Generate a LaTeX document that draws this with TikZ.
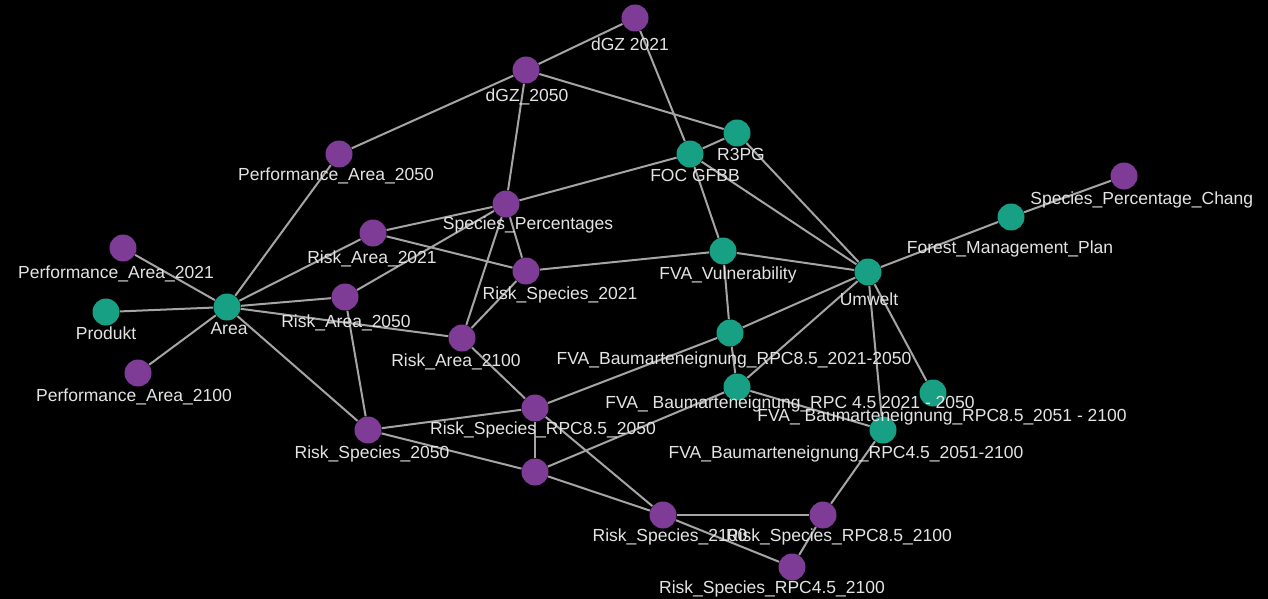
\documentclass[tikz,border=0pt]{standalone}
\usepackage{fontspec}
\setmainfont{Liberation Sans}
\definecolor{purp}{RGB}{126,60,150}
\definecolor{tealn}{RGB}{24,160,132}
\definecolor{edgec}{RGB}{165,165,165}
\definecolor{txtc}{RGB}{228,228,228}
\pgfdeclarelayer{bglayer}
\pgfdeclarelayer{edgelayer}
\pgfsetlayers{bglayer,edgelayer,main}
\begin{document}
\begin{tikzpicture}[x=0.5pt,y=-0.5pt,
  vp/.style={circle,fill=purp,minimum size=13.5pt,inner sep=0pt},
  vt/.style={circle,fill=tealn,minimum size=13.5pt,inner sep=0pt},
  lbl/.style={text=txtc,font=\fontsize{8.75pt}{10pt}\selectfont,inner sep=0pt,anchor=base},
  edge/.style={draw=edgec,line width=1pt}]
\useasboundingbox (0,0) rectangle (1268,599);
\begin{pgfonlayer}{bglayer}
  \fill[black] (0,0) rectangle (1268,599);
\end{pgfonlayer}

% nodes
\node[vp] (dgz21) at (635,18) {};
\node[vp] (dgz50) at (526,70) {};
\node[vp] (pa50) at (339,154) {};
\node[vt] (r3pg) at (737,133) {};
\node[vt] (foc) at (690,154) {};
\node[vp] (spc) at (1124,176) {};
\node[vt] (fmp) at (1011,217) {};
\node[vp] (sp) at (506,204) {};
\node[vp] (ra21) at (373,233) {};
\node[vp] (pa21) at (123,248) {};
\node[vp] (rs21) at (526,271) {};
\node[vt] (fvav) at (723,251) {};
\node[vt] (umw) at (868,272) {};
\node[vt] (prod) at (106,312) {};
\node[vt] (area) at (227,307) {};
\node[vp] (ra50) at (345,297) {};
\node[vp] (ra2100) at (462,338) {};
\node[vt] (b85a) at (730,333) {};
\node[vt] (b45a) at (737,387) {};
\node[vt] (b85b) at (933,393) {};
\node[vt] (b45b) at (883,430) {};
\node[vp] (pa2100) at (138,373) {};
\node[vp] (rs8550) at (535,408) {};
\node[vp] (rs50) at (368,430) {};
\node[vp] (unn) at (535,472) {};
\node[vp] (rs2100) at (663,515) {};
\node[vp] (rs85100) at (823,515) {};
\node[vp] (rs45100) at (792,567) {};

% edges
\begin{pgfonlayer}{edgelayer}
\foreach \a/\b in {pa50/dgz50, pa50/area, pa21/area, prod/area, pa2100/area,
  area/ra21, area/ra50, area/ra2100, area/rs50, ra21/sp, ra21/rs21, ra50/sp,
  ra50/rs50, sp/ra2100, sp/rs21, rs21/ra2100, sp/dgz50, sp/foc, rs21/fvav,
  fvav/foc, fvav/umw, fvav/b85a, dgz21/dgz50, dgz21/foc, dgz50/r3pg, foc/r3pg,
  foc/umw, r3pg/umw, umw/fmp, fmp/spc, umw/b85a, umw/b45a, b85a/b45a, umw/b45b,
  umw/b85b, b45a/b45b, b45a/unn, rs8550/b85a, ra2100/rs8550, rs8550/unn,
  rs8550/rs50, rs50/unn, rs8550/rs2100, unn/rs2100, rs2100/rs85100,
  rs85100/rs45100, rs85100/b45b, rs2100/rs45100}
  \draw[edge] (\a) -- (\b);
\end{pgfonlayer}

% labels
\node[lbl] (l-dgz21) at (630,51) {dGZ 2021};
\node[lbl] (l-dgz50) at (527,102) {dGZ\_2050};
\node[lbl] (l-pa50) at (336,180) {Performance\_Area\_2050};
\node[lbl] (l-r3pg) at (741,160) {R3PG};
\node[lbl] (l-foc) at (695,181) {FOC GFBB};
\node[lbl] (l-fmp) at (1010,253) {Forest\_Management\_Plan};
\node[lbl] (l-sp) at (528,229) {Species\_Percentages};
\node[lbl] (l-ra21) at (372,263) {Risk\_Area\_2021};
\node[lbl] (l-pa21) at (116,278) {Performance\_Area\_2021};
\node[lbl] (l-rs21) at (560,299) {Risk\_Species\_2021};
\node[lbl] (l-fvav) at (728,279) {FVA\_Vulnerability};
\node[lbl] (l-umw) at (869,305) {Umwelt};
\node[lbl] (l-prod) at (106,339) {Produkt};
\node[lbl] (l-area) at (229,334) {Area};
\node[lbl] (l-ra50) at (346,327) {Risk\_Area\_2050};
\node[lbl] (l-ra2100) at (456,366) {Risk\_Area\_2100};
\node[lbl] (l-b85a) at (734,364) {FVA\_Baumarteneignung\_RPC8.5\_2021-2050};
\node[lbl] (l-b45a) at (790,408) {FVA\_ Baumarteneignung\_RPC 4.5 2021 - 2050};
\node[lbl] (l-b85b) at (942,421) {FVA\_ Baumarteneignung\_RPC8.5\_2051 - 2100};
\node[lbl] (l-b45b) at (846,458) {FVA\_Baumarteneignung\_RPC4.5\_2051-2100};
\node[lbl] (l-pa2100) at (134,401) {Performance\_Area\_2100};
\node[lbl] (l-rs8550) at (543,434) {Risk\_Species\_RPC8.5\_2050};
\node[lbl] (l-rs50) at (372,458) {Risk\_Species\_2050};
\node[lbl] (l-rs2100) at (670,541) {Risk\_Species\_2100};
\node[lbl] (l-rs85100) at (839,541) {Risk\_Species\_RPC8.5\_2100};
\node[lbl] (l-rs45100) at (772,593) {Risk\_Species\_RPC4.5\_2100};
\begin{scope}
  \clip (0,0) rectangle (1251,599);
  \node[lbl,anchor=base west] (l-spc) at (1030,204) {Species\_Percentage\_Change};
\end{scope}
\end{tikzpicture}
\end{document}
